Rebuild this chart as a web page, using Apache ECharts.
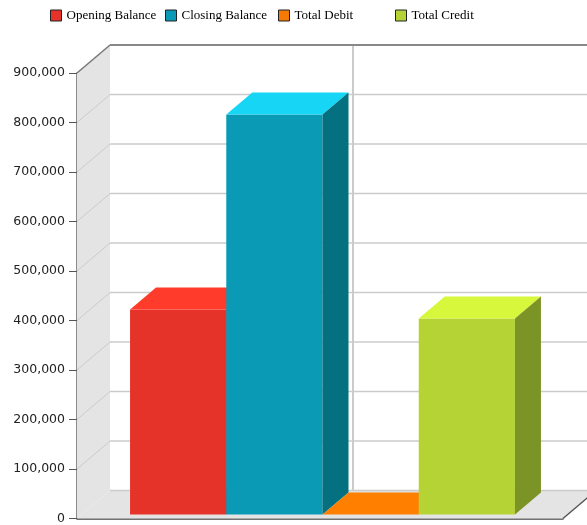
<!DOCTYPE html>
<html>
<head>
<meta charset="utf-8">
<title>Balance</title>
<script src="https://cdn.jsdelivr.net/npm/echarts@6/dist/echarts.min.js"></script>
<style>
  html, body { margin: 0; padding: 0; background: #fff; }
  #chart { width: 587px; height: 525px; }
</style>
</head>
<body>
<div id="chart"></div>
<script>
  // data
  const categories = [''];
  const seriesNames = ['Opening Balance', 'Closing Balance', 'Total Debit', 'Total Credit'];
  const openingBalance = [414000];
  const closingBalance = [808000];
  const totalDebit = [0];
  const totalCredit = [396000];
  const yTicks = [0, 100000, 200000, 300000, 400000, 500000, 600000, 700000, 800000, 900000];

  // 3d look
  const WALL_DX = 33, WALL_DY = -28;
  const BAR_DX = 26, BAR_DY = -22;
  const BAR_OX = 2.5, BAR_OY = -4;
  const BAR_FRAC = 0.198;
  const barColors = [
    { front: '#e5332a', top: '#ff3b2b', side: '#a82219' },
    { front: '#0a9ab5', top: '#17d6f5', side: '#05707f' },
    { front: '#f57a06', top: '#ff7f00', side: '#b55800' },
    { front: '#b6d335', top: '#d6f73c', side: '#7c9426' }
  ];

  function fmt(v) {
    return String(v).replace(/\B(?=(\d{3})+(?!\d))/g, ',');
  }

  function renderWalls(params, api) {
    const cs = params.coordSys;
    const L = cs.x, T = cs.y, R = cs.x + cs.width, B = cs.y + cs.height;
    const grid = '#cbcbcb';
    const kids = [];
    // left wall + floor
    kids.push({ type: 'polygon', shape: { points: [[L, T], [L + WALL_DX, T + WALL_DY], [L + WALL_DX, B + WALL_DY], [L, B]] }, style: { fill: '#e4e4e4' } });
    kids.push({ type: 'polygon', shape: { points: [[L, B], [L + WALL_DX, B + WALL_DY], [R + WALL_DX, B + WALL_DY], [R, B]] }, style: { fill: '#e4e4e4' } });
    kids.push({ type: 'rect', shape: { x: L + WALL_DX, y: T + WALL_DY, width: R - L, height: B - T }, style: { fill: '#fff' } });
    yTicks.forEach(function (t) {
      const y = api.coord([0, t])[1];
      if (t === yTicks[yTicks.length - 1]) return;
      kids.push({ type: 'line', shape: { x1: L + WALL_DX, y1: y + WALL_DY, x2: R + WALL_DX, y2: y + WALL_DY }, style: { stroke: grid, lineWidth: 1.5 } });
      if (t !== 0) {
        kids.push({ type: 'line', shape: { x1: L, y1: y, x2: L + WALL_DX, y2: y + WALL_DY }, style: { stroke: grid, lineWidth: 1 } });
      }
    });
    // category line at back
    const cx = api.coord([0, 0])[0];
    kids.push({ type: 'line', shape: { x1: cx + WALL_DX, y1: T + WALL_DY, x2: cx + WALL_DX, y2: B + WALL_DY }, style: { stroke: grid, lineWidth: 2 } });
    // top edges
    kids.push({ type: 'line', shape: { x1: L, y1: T, x2: L + WALL_DX, y2: T + WALL_DY }, style: { stroke: '#777', lineWidth: 1.5 } });
    kids.push({ type: 'line', shape: { x1: L + WALL_DX, y1: T + WALL_DY, x2: R + WALL_DX + 20, y2: T + WALL_DY }, style: { stroke: '#888', lineWidth: 2 } });
    kids.push({ type: 'line', shape: { x1: R, y1: B, x2: R + WALL_DX, y2: B + WALL_DY }, style: { stroke: '#555', lineWidth: 1.5 } });
    return { type: 'group', children: kids };
  }

  function makeBarRender(idx) {
    return function (params, api) {
      const cat = api.value(0), val = api.value(1);
      const base = api.coord([cat, 0]);
      const top = api.coord([cat, val]);
      const bw = api.size([1, 0])[0] * BAR_FRAC;
      const x0 = base[0] - 2 * bw + idx * bw + BAR_OX;
      const x1 = x0 + bw;
      const yb = base[1] + BAR_OY, yt = top[1] + BAR_OY;
      const c = barColors[idx];
      return {
        type: 'group',
        children: [
          { type: 'polygon', shape: { points: [[x0, yt], [x1, yt], [x1, yb], [x0, yb]] }, style: { fill: c.front } },
          { type: 'polygon', shape: { points: [[x0, yt], [x1, yt], [x1 + BAR_DX, yt + BAR_DY], [x0 + BAR_DX, yt + BAR_DY]] }, style: { fill: c.top } },
          { type: 'polygon', shape: { points: [[x1, yt], [x1 + BAR_DX, yt + BAR_DY], [x1 + BAR_DX, yb + BAR_DY], [x1, yb]] }, style: { fill: c.side } }
        ]
      };
    };
  }

  const seriesData = [openingBalance, closingBalance, totalDebit, totalCredit];
  const legendLeft = [45, 160, 273, 390];

  let myChart = echarts.init(document.getElementById('chart'));
  let option = {
    animation: false,
    legend: seriesNames.map(function (n, i) {
      return {
        data: [n],
        left: legendLeft[i],
        top: 4,
        icon: 'rect',
        itemWidth: 11,
        itemHeight: 11,
        itemStyle: { borderColor: '#222', borderWidth: 1 },
        textStyle: { fontFamily: 'Liberation Serif', fontSize: 13, color: '#000' }
      };
    }),
    grid: { left: 77, right: 24, top: 73, bottom: 6 },
    xAxis: {
      type: 'category',
      data: categories,
      axisLine: { lineStyle: { color: '#444', width: 1.5 } },
      axisTick: { show: false },
      axisLabel: { show: false },
      splitLine: { show: false }
    },
    yAxis: {
      type: 'value',
      min: yTicks[0],
      max: yTicks[yTicks.length - 1],
      interval: yTicks[1] - yTicks[0],
      axisLine: { show: true, lineStyle: { color: '#666', width: 1.5 } },
      axisTick: { show: true, length: 8, lineStyle: { color: '#555' } },
      axisLabel: { margin: 12, color: '#222', fontFamily: 'DejaVu Sans', fontSize: 12.5, formatter: fmt },
      splitLine: { show: false }
    },
    series: [
      { type: 'custom', name: 'walls', z: 1, silent: true, renderItem: renderWalls, data: [[0, 0]] }
    ].concat(seriesNames.map(function (n, i) {
      return {
        type: 'custom',
        name: n,
        z: 2,
        itemStyle: { color: barColors[i].front },
        renderItem: makeBarRender(i),
        data: seriesData[i].map(function (v, k) { return [k, v]; })
      };
    }))
  };
  myChart.setOption(option);
</script>
</body>
</html>
